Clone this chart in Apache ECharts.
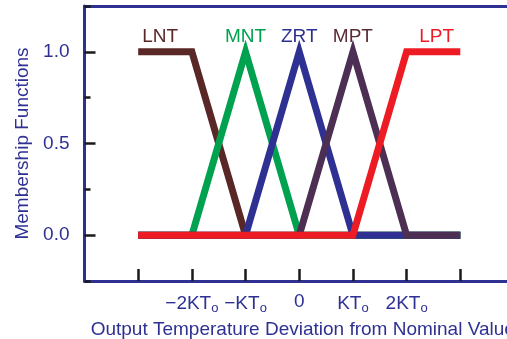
<!DOCTYPE html>
<html>
<head>
<meta charset="utf-8">
<script src="https://cdn.jsdelivr.net/npm/echarts@6/dist/echarts.min.js"></script>
<style>html,body{margin:0;padding:0;background:#fff;overflow:hidden;}#c{width:507px;height:339px;}</style>
</head>
<body>
<div id="c"></div>
<script>
// ---- data ----
const seriesNames = ['LNT', 'MNT', 'ZRT', 'MPT', 'LPT'];
const LNT = [[-3, 1], [-2, 1], [-1, 0], [3, 0]];
const MNT = [[-3, 0], [-2, 0], [-1, 1], [0, 0], [3, 0]];
const ZRT = [[-3, 0], [-1, 0], [0, 1], [1, 0], [3, 0]];
const MPT = [[-3, 0], [0, 0], [1, 1], [2, 0], [3, 0]];
const LPT = [[-3, 0], [1, 0], [2, 1], [3, 1]];
const labelX = [-2.59, -1, 0, 1, 2.56];
const labelY = 1.08;
const xMin = -4, xMax = 3.87;
const xTickValues = [-3, -2, -1, 0, 1, 2, 3];
const xLabelValues = [-2, -1, 0, 1, 2];
const xLabelMain = ['\u22122KT', '\u2212KT', '0', 'KT', '2KT'];
const xLabelSub = ['o', 'o', '', 'o', 'o'];
const yMajorTicks = [0, 0.5, 1];
const yMinorTicks = [-0.25, 0.25, 0.75, 1.25];
const xTitle = 'Output Temperature Deviation from Nominal Value';
const yTitle = 'Membership Functions';

// ---- style ----
const colors = ['#5a2727', '#00a14f', '#2e3192', '#4c2f52', '#ed1c24'];
const labelColors = ['#5a2727', '#00a14f', '#2e3192', '#5a2d36', '#ed1c24'];
const axisBlue = '#2e3192';
const FONT = '"Liberation Sans", Arial, sans-serif';
const FS = 19;

const allData = [LNT, MNT, ZRT, MPT, LPT];
const series = allData.map((d, i) => ({
  type: 'line',
  name: seriesNames[i],
  data: d,
  showSymbol: false,
  symbol: 'none',
  silent: true,
  lineStyle: { color: colors[i], width: 7, cap: 'butt', join: 'miter' },
  z: 2 + i,
  markPoint: {
    symbol: 'circle', symbolSize: 0, silent: true,
    data: [{ coord: [labelX[i], labelY] }],
    label: {
      show: true, position: 'inside', formatter: seriesNames[i],
      color: labelColors[i], fontSize: FS, fontFamily: FONT
    }
  }
}));

const chart = echarts.init(document.getElementById('c'), null, { renderer: 'canvas' });
chart.setOption({
  animation: false,
  backgroundColor: '#fff',
  grid: { left: 84.5, right: 0, top: 6, bottom: 58, containLabel: false, outerBoundsMode: 'none' },
  xAxis: [{
    type: 'value', min: xMin, max: xMax, interval: 1,
    position: 'bottom',
    axisLine: { show: true, onZero: false, lineStyle: { color: axisBlue, width: 3 } },
    axisTick: { show: true, inside: true, length: 12, customValues: xTickValues, lineStyle: { color: '#1a1a1a', width: 2.5 } },
    axisLabel: {
      customValues: xLabelValues, margin: 11,
      formatter: function (v) {
        const k = xLabelValues.indexOf(Math.round(v));
        if (k < 0) return '';
        return '{m|' + xLabelMain[k] + '}' + (xLabelSub[k] ? '{s|' + xLabelSub[k] + '}' : '');
      },
      rich: {
        m: { fontSize: FS, fontFamily: FONT, color: axisBlue },
        s: { fontSize: 13, fontFamily: FONT, color: axisBlue, padding: [10, 0, 0, 0] }
      }
    },
    splitLine: { show: false },
    name: xTitle, nameLocation: 'middle', nameGap: 34,
    nameTextStyle: { color: axisBlue, fontSize: FS, fontFamily: FONT, padding: [0, 0, 0, 14] }
  }, {
    type: 'value', min: xMin, max: xMax, position: 'top',
    axisLine: { show: true, onZero: false, lineStyle: { color: axisBlue, width: 3 } },
    axisTick: { show: false }, axisLabel: { show: false }, splitLine: { show: false }
  }],
  yAxis: [{
    type: 'value', min: -0.25, max: 1.25, interval: 0.25,
    position: 'left',
    axisLine: { show: true, onZero: false, lineStyle: { color: axisBlue, width: 3 } },
    axisTick: { show: true, inside: true, length: 11, customValues: yMajorTicks, lineStyle: { color: '#1a1a1a', width: 2.5 } },
    axisLabel: {
      customValues: yMajorTicks, margin: 15,
      formatter: v => v.toFixed(1),
      color: axisBlue, fontSize: FS, fontFamily: FONT
    },
    splitLine: { show: false },
    name: yTitle, nameLocation: 'middle', nameGap: 50, nameRotate: 90,
    nameTextStyle: { color: axisBlue, fontSize: FS, fontFamily: FONT }
  }, {
    type: 'value', min: -0.25, max: 1.25, interval: 0.25,
    position: 'left', offset: 0,
    axisLine: { show: false, onZero: false },
    axisTick: { show: true, inside: true, length: 6, customValues: yMinorTicks, lineStyle: { color: '#1a1a1a', width: 2.5 } },
    axisLabel: { show: false },
    splitLine: { show: false }
  }],
  series: series
});
</script>
</body>
</html>
